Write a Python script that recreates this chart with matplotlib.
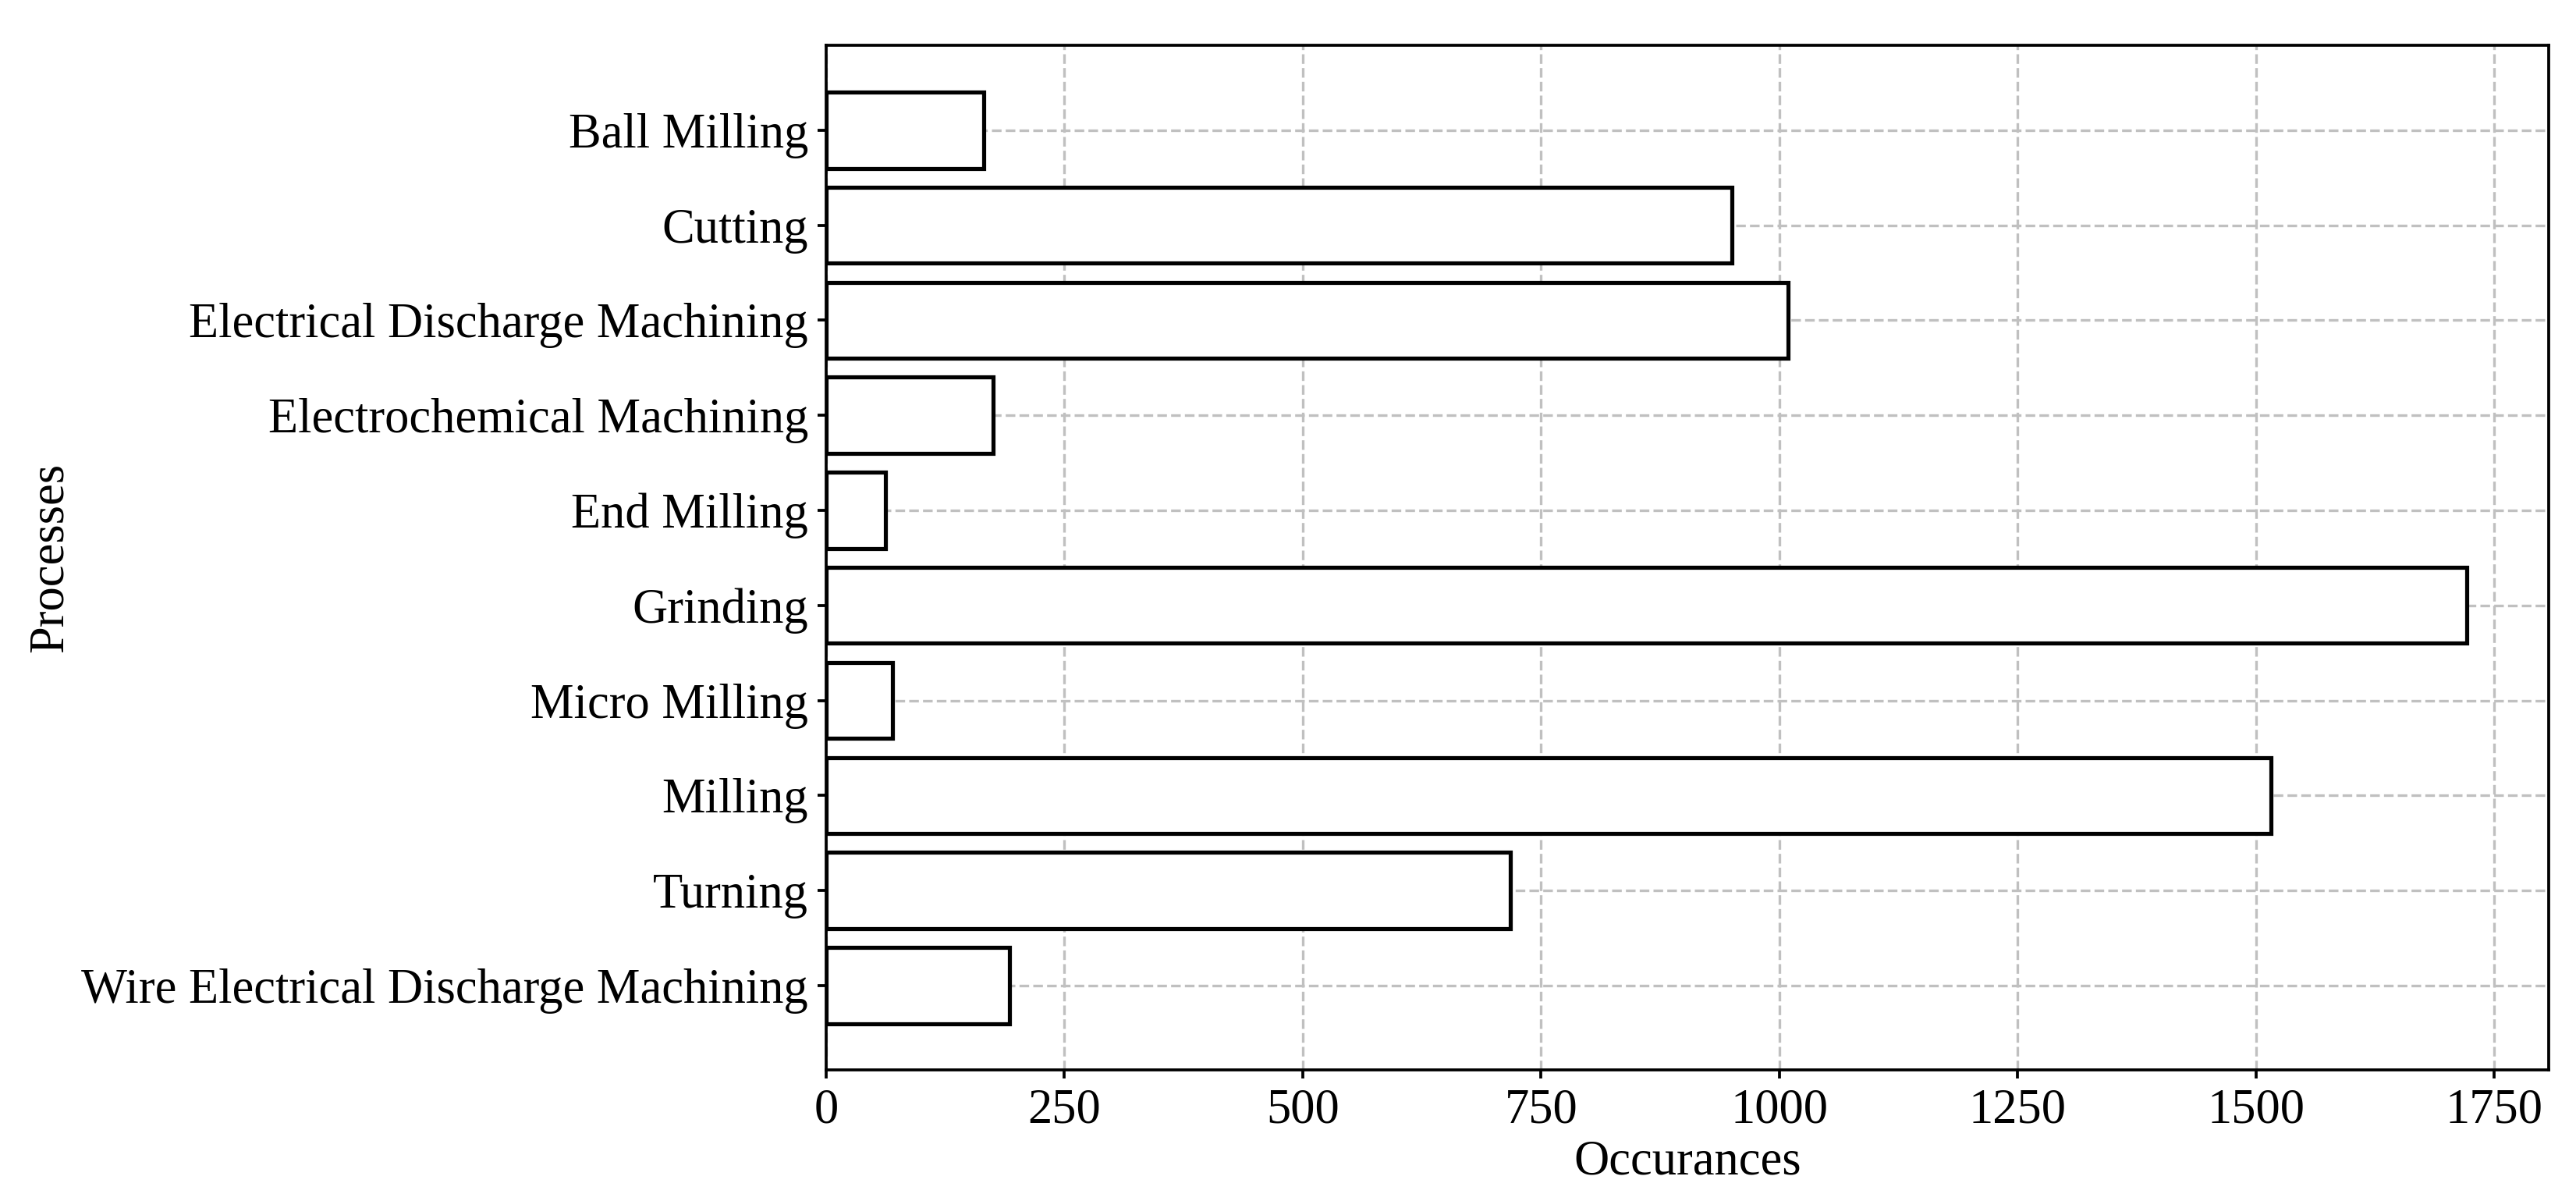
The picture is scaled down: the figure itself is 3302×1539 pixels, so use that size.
import matplotlib
matplotlib.use("Agg")
import matplotlib.pyplot as plt

# Process counts
processes = [
    "Ball Milling",
    "Cutting",
    "Electrical Discharge Machining",
    "Electrochemical Machining",
    "End Milling",
    "Grinding",
    "Micro Milling",
    "Milling",
    "Turning",
    "Wire Electrical Discharge Machining",
]
occurrences = [165, 950, 1009, 175, 62, 1721, 70, 1516, 718, 192]

plt.rcParams["font.family"] = ["Liberation Serif", "DejaVu Serif"]
plt.rcParams["font.size"] = 15

fig, ax = plt.subplots(figsize=(3302 / 300, 1539 / 300), dpi=300)
fig.subplots_adjust(left=0.3207, right=0.9894, top=0.962, bottom=0.109)

ax.barh(processes, occurrences, height=0.8, color="white",
        edgecolor="black", linewidth=1.25, zorder=2)
ax.invert_yaxis()

ax.grid(True, linestyle="--", color="#c0c0c0", linewidth=0.8, zorder=0)
ax.set_axisbelow(True)
ax.set_xticks([0, 250, 500, 750, 1000, 1250, 1500, 1750])
ax.tick_params(length=2.6, width=0.9, pad=2.9)
ax.set_xlabel("Occurances", labelpad=2)
ax.set_ylabel("Processes", labelpad=2.5)
for s in ax.spines.values():
    s.set_linewidth(0.9)

fig.savefig("out.png", dpi=300)
